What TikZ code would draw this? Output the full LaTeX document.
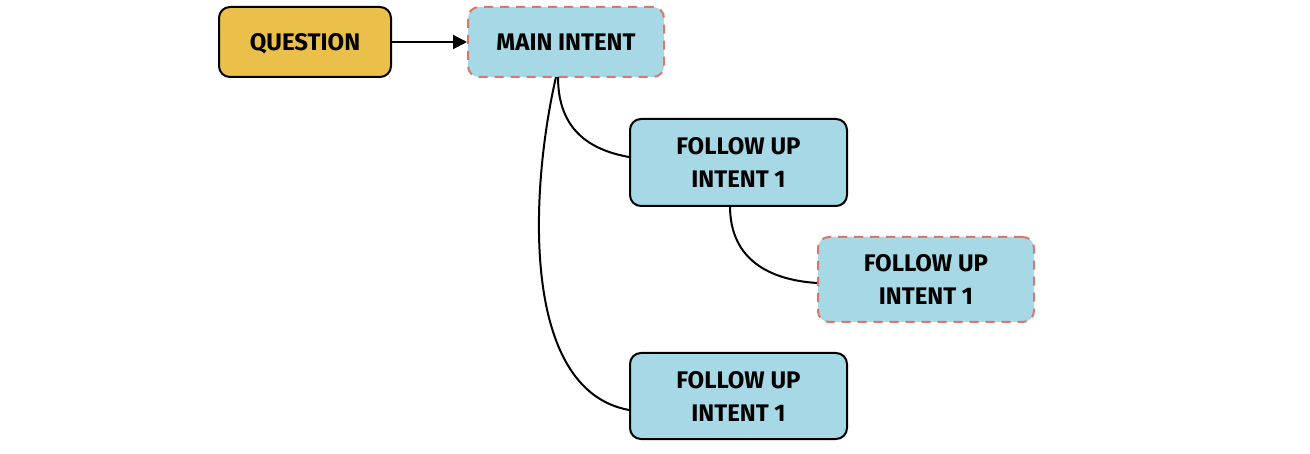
\documentclass[tikz,border=0pt]{standalone}
\usepackage{fontspec}
\setmainfont{Fira Sans}
\usetikzlibrary{arrows.meta}
\definecolor{qyellow}{HTML}{EBC04A}
\definecolor{iblue}{HTML}{A6D9E5}
\definecolor{dred}{HTML}{D9786A}
\tikzset{
  box/.style={draw=black, line width=2pt, rounded corners=11pt, fill=iblue, align=center,
    font=\fontsize{24}{33}\selectfont\bfseries, inner sep=0pt, text depth=0pt},
  dbox/.style={box, draw=dred, dash pattern=on 9pt off 7pt},
  conn/.style={line width=2pt, draw=black},
}
\begin{document}
\begin{tikzpicture}[x=1pt,y=1pt]
\useasboundingbox (0,0) rectangle (1310,-454);
\node[box, fill=qyellow, minimum width=172pt, minimum height=70pt] (q) at (305,-42) {QUESTION};
\node[dbox, minimum width=196pt, minimum height=70pt] (m) at (566,-42) {MAIN INTENT};
\node[box, minimum width=217pt, minimum height=87pt] (f1) at (738.5,-162.5) {FOLLOW UP\\INTENT 1};
\node[dbox, minimum width=216pt, minimum height=85pt] (f2) at (926,-279.5) {FOLLOW UP\\INTENT 1};
\node[box, minimum width=217pt, minimum height=86pt] (f3) at (738.5,-396) {FOLLOW UP\\INTENT 1};
\draw[conn, -{Triangle[length=14pt,width=14pt]}] (q.east) -- (m.west);
\coordinate (ma) at (558,-77);
\coordinate (mb) at (556,-77);
\coordinate (fa) at (730,-206);
\draw[conn] (ma) .. controls (558,-130) and (590,-150) .. (f1.west |- 0,-157);
\draw[conn] (mb) .. controls (530,-190) and (520,-390) .. (f3.west |- 0,-410);
\draw[conn] (fa) .. controls (730,-260) and (770,-280) .. (f2.west |- 0,-283);
\end{tikzpicture}
\end{document}
